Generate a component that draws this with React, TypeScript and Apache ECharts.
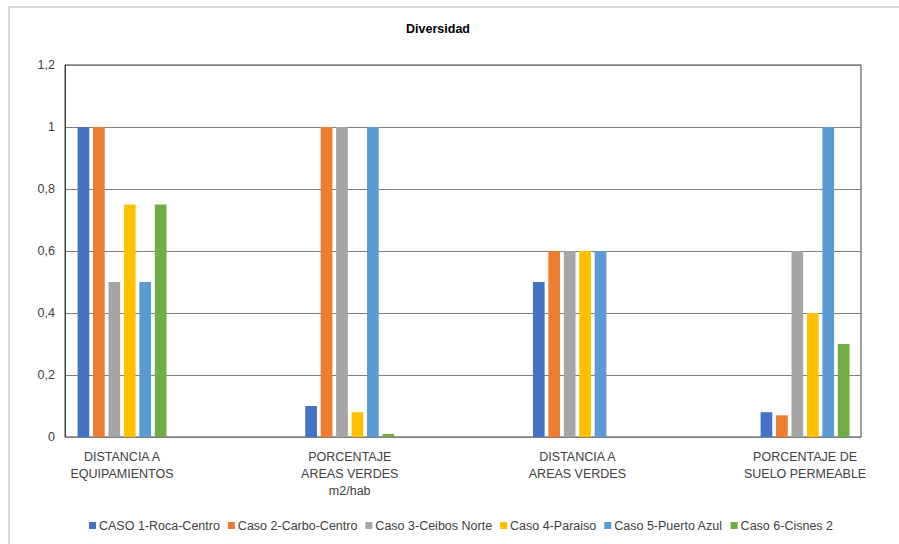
import React, { useEffect, useRef } from "react";
import * as echarts from "echarts";

const categories = [
  "DISTANCIA A\nEQUIPAMIENTOS",
  "PORCENTAJE\nAREAS VERDES\nm2/hab",
  "DISTANCIA A\nAREAS VERDES",
  "PORCENTAJE DE\nSUELO PERMEABLE",
];
const seriesNames = [
  "CASO 1-Roca-Centro",
  "Caso 2-Carbo-Centro",
  "Caso 3-Ceibos Norte",
  "Caso 4-Paraiso",
  "Caso 5-Puerto Azul",
  "Caso 6-Cisnes 2",
];
const caso1 = [1, 0.1, 0.5, 0.08];
const caso2 = [1, 1, 0.6, 0.07];
const caso3 = [0.5, 1, 0.6, 0.6];
const caso4 = [0.75, 0.08, 0.6, 0.4];
const caso5 = [0.5, 1, 0.6, 1];
const caso6 = [0.75, 0.01, 0, 0.3];
const seriesValues = [caso1, caso2, caso3, caso4, caso5, caso6];
const colors = ["#4472C4", "#ED7D31", "#A5A5A5", "#FFC000", "#5B9BD5", "#70AD47"];

const FONT = '"Liberation Sans Narrow", "Liberation Sans", sans-serif';

export default function App() {
  const ref = useRef<HTMLDivElement>(null);
  useEffect(() => {
    if (!ref.current) return;
    const chart = echarts.init(ref.current, null, { renderer: "svg" });
    chart.setOption({
      animation: false,
      backgroundColor: "#ffffff",
      textStyle: { fontFamily: FONT },
      title: {
        text: "Diversidad",
        left: 433,
        textAlign: "center",
        top: 17,
        textStyle: { fontSize: 12.5, fontWeight: "bold", color: "#000", fontFamily: FONT },
      },
      legend: {
        bottom: 7,
        left: 84,
        icon: "rect",
        itemWidth: 7,
        itemHeight: 7,
        itemGap: 8,
        textStyle: { fontSize: 12.5, color: "#404040", fontFamily: FONT, padding: [0, 0, 0, -2] },
        data: seriesNames,
      },
      graphic: [
        {
          type: "rect",
          shape: { x: 9, y: 7, width: 900, height: 560 },
          style: { fill: "none", stroke: "#d9d9d9", lineWidth: 2 },
          silent: true,
        },
      ],
      grid: [
        { left: 65, top: 65, width: 796, height: 372, show: true, borderColor: "#404040", borderWidth: 1 },
        { left: 8.2, top: 65, width: 910.7, height: 372 },
      ],
      xAxis: [
        { type: "category", gridIndex: 0, data: categories, show: false },
        {
          type: "category",
          gridIndex: 1,
          data: categories,
          axisLine: { show: false },
          axisTick: { show: false },
          axisLabel: {
            fontSize: 12.5,
            color: "#404040",
            margin: 11,
            lineHeight: 17,
            fontFamily: FONT,
          },
        },
      ],
      yAxis: [
        {
          type: "value",
          gridIndex: 0,
          min: 0,
          max: 1.2,
          interval: 0.2,
          axisLine: { show: true, lineStyle: { color: "#404040" } },
          axisTick: { show: false },
          splitLine: { show: true, lineStyle: { color: "#7f7f7f", width: 1 } },
          axisLabel: {
            fontSize: 12.5,
            color: "#404040",
            margin: 10,
            fontFamily: FONT,
            formatter: (v: number) => String(Math.round(v * 10) / 10).replace(".", ","),
          },
        },
        { type: "value", gridIndex: 1, min: 0, max: 1.2, interval: 0.2, show: false },
      ],
      series: seriesNames.map((name, i) => ({
        name,
        type: "bar",
        xAxisIndex: 1,
        yAxisIndex: 1,
        data: seriesValues[i],
        barWidth: 11.7,
        barGap: "32%",
        itemStyle: { color: colors[i] },
      })),
    });
    return () => chart.dispose();
  }, []);
  return (
    <div
      ref={ref}
      style={{ position: "fixed", left: 0, top: 0, width: 940, height: 544 }}
    />
  );
}
